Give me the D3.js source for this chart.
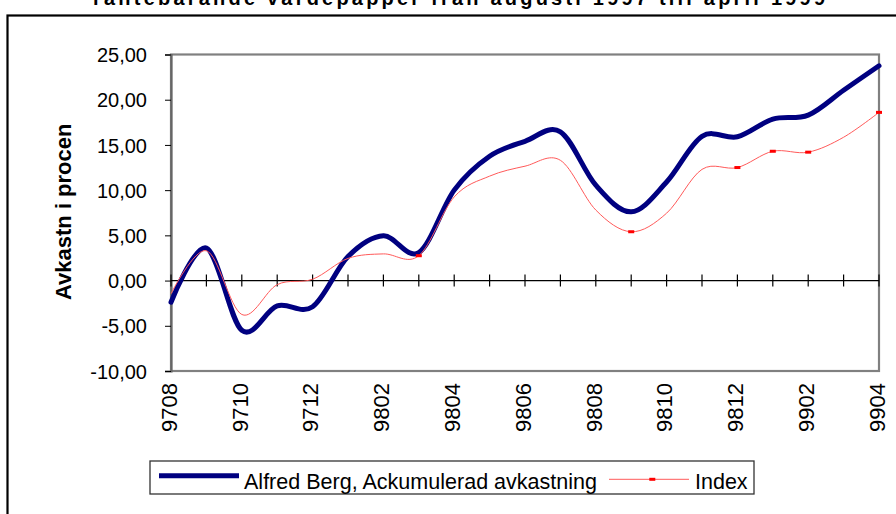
<!DOCTYPE html>
<html><head><meta charset="utf-8">
<script src="https://cdn.jsdelivr.net/npm/d3@7"></script>
<style>html,body{margin:0;padding:0;background:#fff;overflow:hidden}</style>
</head><body>
<svg id="c" width="896" height="514"></svg>
<script>
const titleText = "räntebärande värdepapper från augusti 1997 till april 1999";
const yTitle = "Avkastn i procen";
const months = ["9708","9709","9710","9711","9712","9801","9802","9803","9804","9805","9806","9807","9808","9809","9810","9811","9812","9901","9902","9903","9904"];
const xTickLabels = ["9708","9710","9712","9802","9804","9806","9808","9810","9812","9902","9904"];
const yTicks = [-10,-5,0,5,10,15,20,25];
const seriesNames = ["Alfred Berg, Ackumulerad avkastning","Index"];
const bergValues = [-2.4, 3.6, -5.5, -2.8, -2.9, 2.65, 4.95, 3.1, 10.0, 13.75, 15.4, 16.45, 10.55, 7.6, 10.9, 15.95, 15.9, 17.85, 18.3, 21.05, 23.75];
const indexValues = [-1.45, 3.3, -3.75, -0.45, 0.15, 2.45, 2.95, 2.75, 9.25, 11.55, 12.65, 13.3, 7.8, 5.4, 7.45, 12.3, 12.5, 14.3, 14.2, 15.85, 18.6];
const indexMarkerMonths = ["9803","9809","9812","9901","9902","9904"];

const FONT = "'Liberation Sans', Arial, sans-serif";
const svg = d3.select("#c");
const L = 171, R = 879, T = 54.5, B = 371;
const x = d3.scalePoint().domain(months).range([L, R]);
const y = d3.scaleLinear().domain([-10, 25]).range([B, T]);
const fmt = v => d3.format(".2f")(v).replace(".", ",").replace("\u2212", "-");

// outer chart border
svg.append("rect").attr("x", 7.5).attr("y", 15.5).attr("width", 920).attr("height", 520)
  .attr("fill", "none").attr("stroke", "#000").attr("stroke-width", 2.2);

// title (cropped at top, as in the reference)
svg.append("text").attr("x", 93).attr("y", 5).attr("textLength", 732).attr("lengthAdjust", "spacing")
  .attr("font-family", FONT).attr("font-weight", "bold").attr("font-size", 20).attr("fill", "#000")
  .text(titleText);

// plot area border
svg.append("rect").attr("x", L).attr("y", T).attr("width", R - L).attr("height", B - T)
  .attr("fill", "#fff").attr("stroke", "#808080").attr("stroke-width", 2.2);

// y axis
const yAxis = d3.axisLeft(y).tickValues(yTicks).tickFormat(fmt).tickSize(6).tickPadding(18);
const ya = svg.append("g").attr("transform", `translate(${L},0)`).call(yAxis);
ya.select(".domain").attr("stroke", "#666").attr("stroke-width", 2.2);
ya.selectAll(".tick line").attr("stroke", "#000");
ya.selectAll(".tick text").attr("font-family", FONT).attr("font-size", 20).attr("fill", "#000").attr("dy", "0.36em");

// x axis at zero, ticks crossing
const xa = svg.append("g").attr("transform", `translate(0,${y(0)})`);
xa.append("line").attr("x1", L).attr("x2", R).attr("stroke", "#000").attr("stroke-width", 1.2);
xa.selectAll("line.tk").data(months).join("line").attr("class", "tk")
  .attr("x1", d => x(d)).attr("x2", d => x(d)).attr("y1", -6).attr("y2", 6)
  .attr("stroke", "#000").attr("stroke-width", 1.2);

// x labels at bottom, rotated
svg.append("g").selectAll("text").data(xTickLabels).join("text")
  .attr("transform", d => `translate(${x(d) + 5.7},${B + 12}) rotate(-90)`)
  .attr("text-anchor", "end").attr("font-family", FONT).attr("font-size", 22).attr("fill", "#000")
  .text(d => d);

// y title
svg.append("text").attr("transform", "translate(70.5,300) rotate(-90)")
  .attr("font-family", FONT).attr("font-weight", "bold").attr("font-size", 22).attr("fill", "#000")
  .text(yTitle);

// lines
const curve = d3.curveCardinal.tension(0);
const line = d3.line().x((d, i) => x(months[i])).y(d => y(d)).curve(curve);
svg.append("path").attr("d", line(bergValues)).attr("fill", "none")
  .attr("stroke", "#000080").attr("stroke-width", 5).attr("stroke-linejoin", "round").attr("stroke-linecap", "round");
svg.append("path").attr("d", line(indexValues)).attr("fill", "none")
  .attr("stroke", "#ff5a5a").attr("stroke-width", 1);
svg.append("g").selectAll("rect").data(indexMarkerMonths).join("rect")
  .attr("x", d => x(d) - 3).attr("y", d => y(indexValues[months.indexOf(d)]) - 1.5)
  .attr("width", 6).attr("height", 3).attr("fill", "#ff0000");

// legend
const lg = svg.append("g");
lg.append("rect").attr("x", 150).attr("y", 461).attr("width", 604).attr("height", 33)
  .attr("fill", "#fff").attr("stroke", "#333").attr("stroke-width", 1.3);
lg.append("line").attr("x1", 159).attr("x2", 239).attr("y1", 475.7).attr("y2", 475.7)
  .attr("stroke", "#000080").attr("stroke-width", 5);
lg.append("text").attr("x", 244).attr("y", 489).attr("textLength", 353).attr("lengthAdjust", "spacingAndGlyphs")
  .attr("font-family", FONT).attr("font-size", 21.5).attr("fill", "#000").text(seriesNames[0]);
lg.append("line").attr("x1", 609).attr("x2", 689).attr("y1", 479.3).attr("y2", 479.3)
  .attr("stroke", "#ff5a5a").attr("stroke-width", 1);
lg.append("rect").attr("x", 649.3).attr("y", 477.8).attr("width", 6).attr("height", 3).attr("fill", "#ff0000");
lg.append("text").attr("x", 695).attr("y", 489)
  .attr("font-family", FONT).attr("font-size", 21.5).attr("fill", "#000").text(seriesNames[1]);
</script>
</body></html>
